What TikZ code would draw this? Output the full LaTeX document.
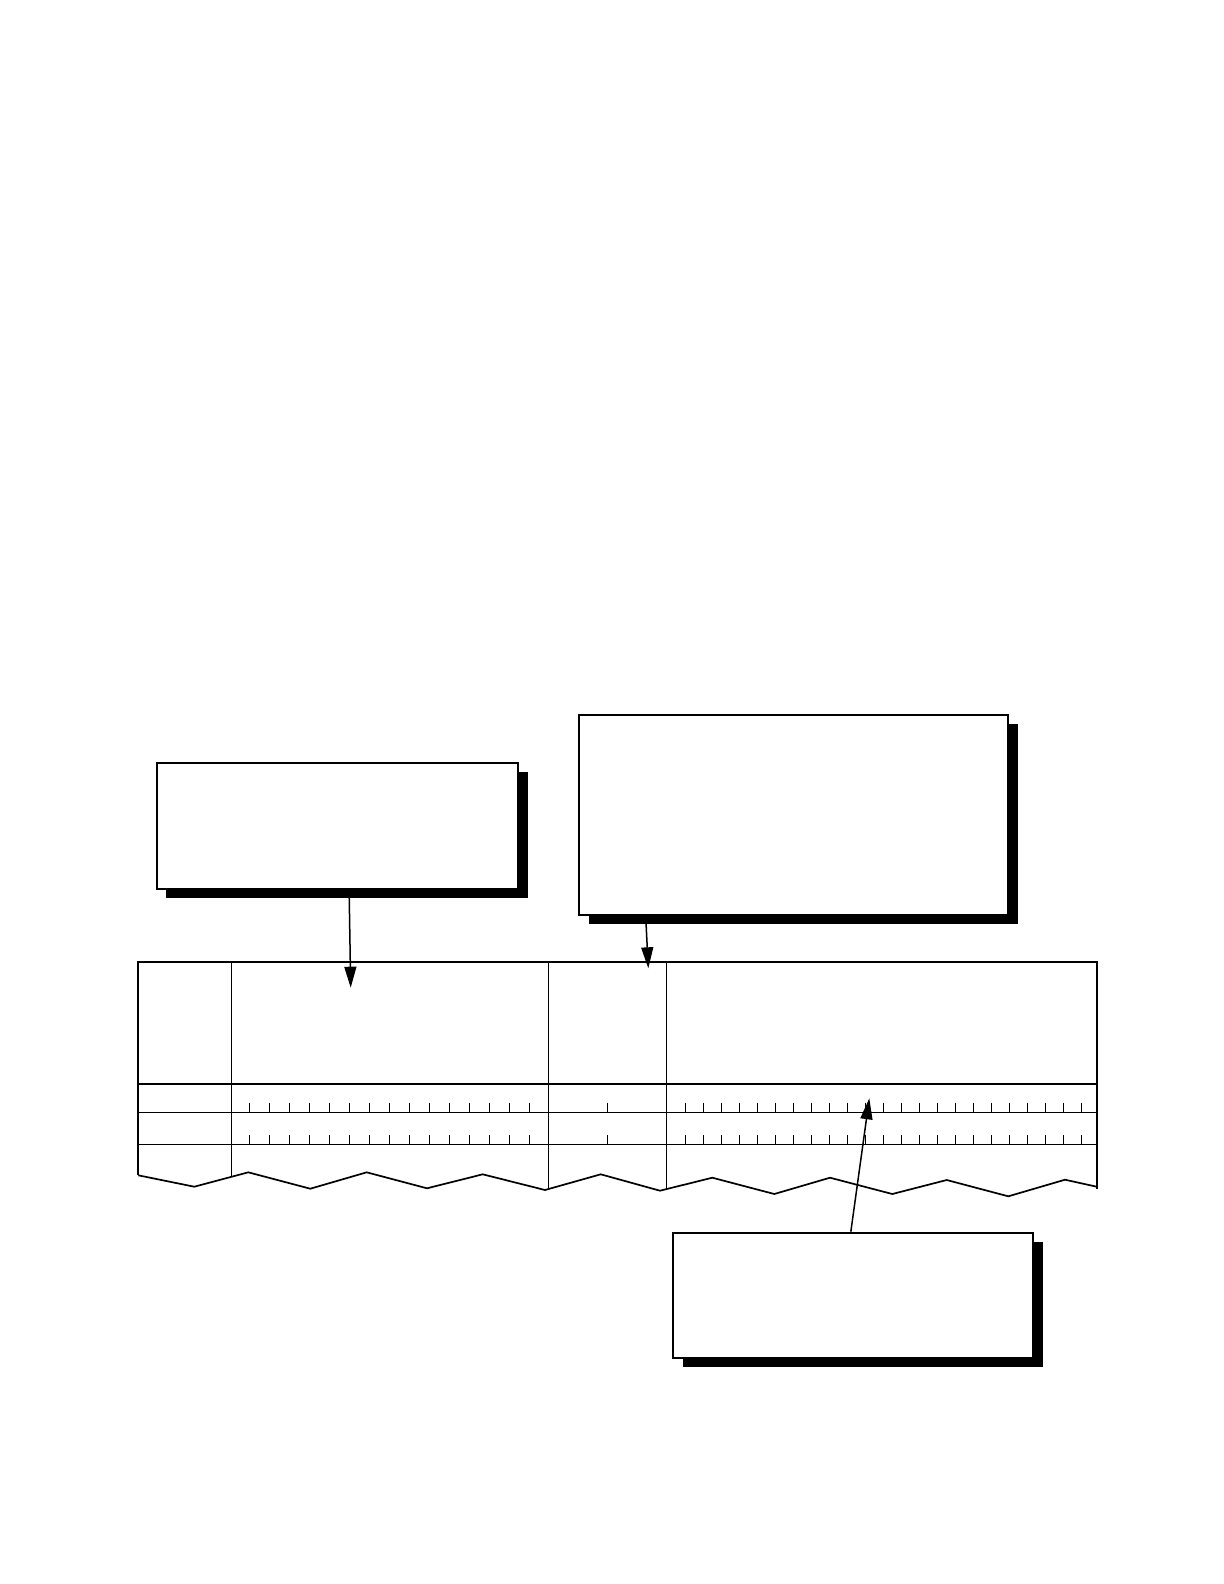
\documentclass[tikz,border=0pt]{standalone}
\usetikzlibrary{arrows.meta,shadows,calc}
\begin{document}
\begin{tikzpicture}[x=0.5pt,y=-0.5pt,
  callout/.style={draw=black,fill=white,line width=1pt,inner sep=0pt,
    drop shadow={shadow xshift=4.9pt,shadow yshift=-4.4pt,fill=black,opacity=1}},
  ptr/.style={line width=0.75pt,-{Triangle[length=10.5pt,width=6pt]}},
  frame/.style={line width=0.85pt},
  rule/.style={line width=0.5pt},
  tick/.style={line width=0.5pt}]
\useasboundingbox (0,0) rectangle (1224,1584);

% table
\draw[frame] (138.3,1175.3) -- (138.3,961.7) -- (1096.7,961.7) -- (1096.7,1189);
\draw[frame] (138.3,1084) -- (1096.7,1084);
\draw[rule] (138.3,1112.3) -- (1096.7,1112.3);
\draw[rule] (138.3,1144) -- (1096.7,1144);
\draw[rule] (231.3,961.7) -- (231.3,1176.8);
\draw[rule] (548.3,961.7) -- (548.3,1189.1);
\draw[rule] (666.3,961.7) -- (666.3,1189.1);
\foreach \k in {0,...,14}{
  \draw[tick] (249.3+20*\k,1102.7) -- (249.3+20*\k,1112.3);
  \draw[tick] (249.3+20*\k,1134.8) -- (249.3+20*\k,1144);
}
\draw[tick] (607.3,1102.7) -- (607.3,1112.3);
\draw[tick] (607.3,1134.8) -- (607.3,1144);
\foreach \k in {0,...,22}{
  \draw[tick] (685.3+18*\k,1102.7) -- (685.3+18*\k,1112.3);
  \draw[tick] (685.3+18*\k,1134.8) -- (685.3+18*\k,1144);
}
\draw[frame,line join=miter] (138.3,1175.3) -- (194.3,1186.7) -- (248.3,1172.3) -- (310.3,1188.7)
  -- (366.7,1172.3) -- (427,1188.3) -- (482.7,1174.3) -- (545,1190) -- (600.7,1174.3)
  -- (660,1190.7) -- (712.3,1177.7) -- (774.3,1194) -- (830,1177.7) -- (892.3,1194)
  -- (946.7,1180) -- (1008.3,1196.3) -- (1065,1179.7) -- (1096.7,1186.7);

% arrow targets
\coordinate (t1) at (350.7,987.7);
\coordinate (t2) at (648.3,968.3);
\coordinate (t3) at (869.3,1098.3);

% callout boxes
\node[callout,minimum width=180.75pt,minimum height=63pt] (box1) at (337.3,826.3) {};
\node[callout,minimum width=214.5pt,minimum height=100pt] (box2) at (793.5,815) {};
\node[callout,minimum width=180.3pt,minimum height=62.5pt] (box3) at (853,1295.2) {};

% pointers
\draw[ptr] ($(box1.south west)!0.5325!(box1.south east)$) -- (t1);
\draw[ptr] ($(box2.south west)!0.157!(box2.south east)$) -- (t2);
\draw[ptr] ($(box3.north west)!0.494!(box3.north east)$) -- (t3);
\end{tikzpicture}
\end{document}
